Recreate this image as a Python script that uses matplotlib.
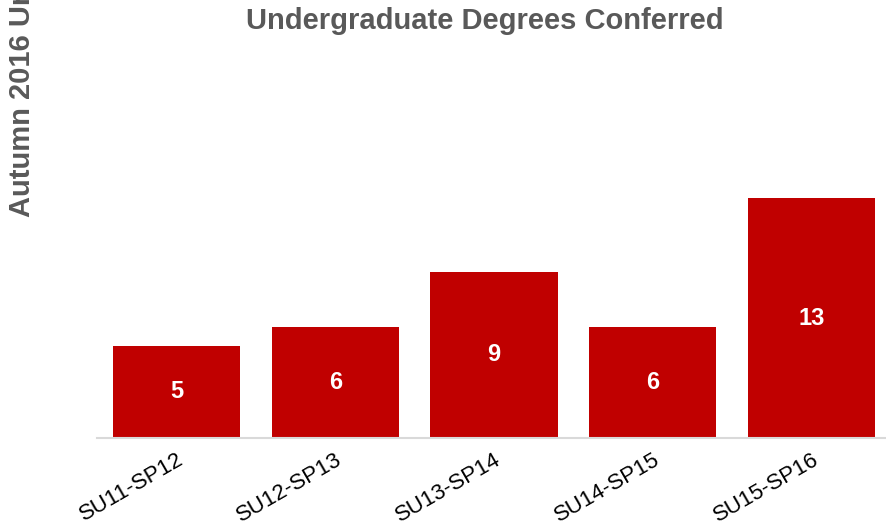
import matplotlib
matplotlib.use("Agg")
import matplotlib.pyplot as plt

categories = ["SU11-SP12", "SU12-SP13", "SU13-SP14", "SU14-SP15", "SU15-SP16"]
values = [5, 6, 9, 6, 13]

plt.rcParams['font.family'] = ['Liberation Sans', 'DejaVu Sans']

W, H = 886, 531
fig = plt.figure(figsize=(W / 100, H / 100), dpi=100)
ax_left, ax_right = 97, 891
ax_bottom = 438
ymax = 14
px_per_unit = 18.46
ax_top = ax_bottom - ymax * px_per_unit
ax = fig.add_axes([ax_left / W, (H - ax_bottom) / H, (ax_right - ax_left) / W, (ax_bottom - ax_top) / H])

x = range(len(categories))
bars = ax.bar(x, values, width=0.8, color="#C00000", zorder=2)
ax.set_xlim(-0.5, len(categories) - 0.5)
ax.set_ylim(0, ymax)

for xi, v in zip(x, values):
    ax.text(xi, v / 2, str(v), ha="center", va="center", color="white",
            fontsize=17, fontweight="bold")

for s in ["top", "right", "left"]:
    ax.spines[s].set_visible(False)
ax.spines["bottom"].set_color("#D9D9D9")
ax.spines["bottom"].set_linewidth(1.5)
ax.set_yticks([])
ax.set_xticks(list(x))
ax.set_xticklabels(categories, rotation=30, ha="right", rotation_mode="anchor",
                   fontsize=16, color="black")
ax.tick_params(axis="x", length=0, pad=8)

fig.text(485 / W, 1 - 21 / H, "Undergraduate Degrees Conferred", ha="center", va="center",
         fontsize=21, fontweight="bold", color="#595959")
fig.text(22 / W, 1 - 217 / H, "Autumn 2016 Undergraduate Majors", rotation=90,
         ha="center", va="bottom", fontsize=21, fontweight="bold", color="#595959")

fig.savefig("out.png", dpi=100)
